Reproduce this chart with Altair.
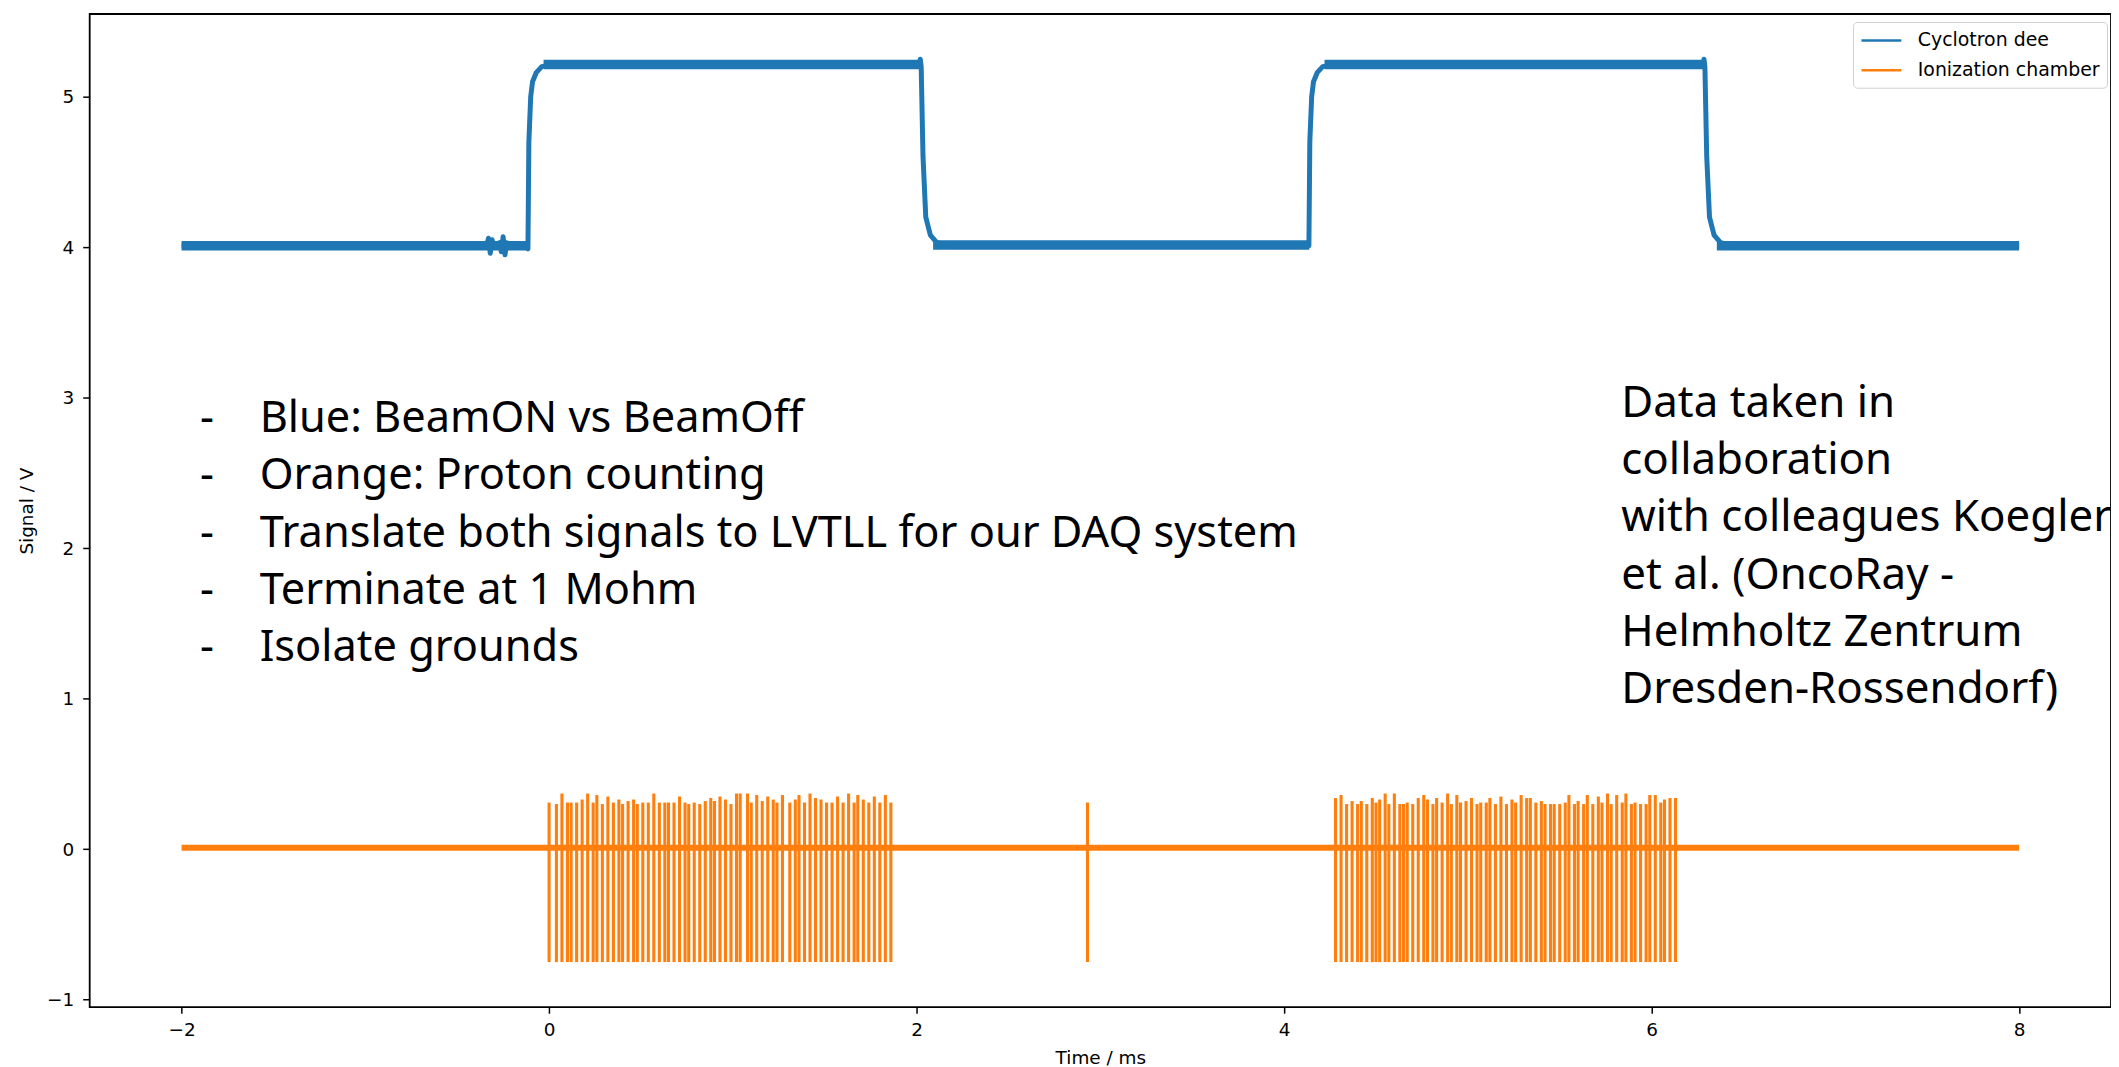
import altair as alt
import pandas as pd

# ---------------- data ----------------
# Cyclotron dee signal: time (ms) and signal (V)
dee_t = [-2.0, -0.34, -0.33, -0.32, -0.31, -0.30, -0.27, -0.26, -0.25, -0.24, -0.23, -0.22,
         -0.12, -0.115, -0.11, -0.10, -0.09, -0.07, -0.04, 0.0,
         2.015, 2.02, 2.025, 2.035, 2.05, 2.075, 2.11, 2.19,
         4.135, 4.14, 4.15, 4.16, 4.18, 4.21, 4.25,
         6.28, 6.285, 6.29, 6.30, 6.315, 6.34, 6.375, 6.45, 8.0]
dee_v = [4.01, 4.01, 4.06, 3.96, 4.05, 4.00, 4.03, 3.97, 4.07, 3.95, 4.03, 4.00,
         4.00, 3.99, 4.70, 5.00, 5.10, 5.16, 5.20, 5.21,
         5.21, 5.25, 5.20, 4.60, 4.20, 4.08, 4.03, 4.01,
         4.01, 4.70, 5.00, 5.10, 5.16, 5.20, 5.21,
         5.21, 5.25, 5.20, 4.60, 4.20, 4.08, 4.03, 4.01, 4.01]
# noisy flat levels of the dee signal (start, end, level)
band_t0 = [-2.0, -0.03, 2.09, 4.22, 6.355]
band_t1 = [-0.115, 2.02, 4.137, 6.285, 8.0]
band_v = [4.01, 5.215, 4.015, 5.215, 4.01]

# Ionization chamber: baseline and pulses
base_t0 = [-2.0]
base_t1 = [8.0]
base_v = [0.01]

burst1_t = [0.00, 0.04, 0.07, 0.10, 0.12, 0.15, 0.18, 0.21, 0.24, 0.26,
            0.29, 0.32, 0.35, 0.38, 0.40, 0.43, 0.46, 0.48, 0.51, 0.54,
            0.57, 0.60, 0.63, 0.65, 0.68, 0.71, 0.74, 0.76, 0.79, 0.82,
            0.85, 0.88, 0.90, 0.93, 0.96, 0.99, 1.02, 1.04, 1.08, 1.10,
            1.13, 1.16, 1.19, 1.22, 1.24, 1.27, 1.31, 1.34, 1.36, 1.39,
            1.42, 1.45, 1.48, 1.51, 1.54, 1.57, 1.60, 1.63, 1.66, 1.68,
            1.71, 1.74, 1.77, 1.80, 1.83, 1.86]
burst1_top = [0.31, 0.30, 0.37, 0.31, 0.31, 0.31, 0.33, 0.37, 0.31, 0.36,
              0.30, 0.35, 0.31, 0.33, 0.30, 0.32, 0.33, 0.30, 0.31, 0.31,
              0.37, 0.31, 0.31, 0.31, 0.31, 0.35, 0.31, 0.30, 0.31, 0.30,
              0.32, 0.34, 0.32, 0.35, 0.33, 0.30, 0.37, 0.37, 0.37, 0.31,
              0.36, 0.32, 0.35, 0.33, 0.31, 0.36, 0.31, 0.33, 0.36, 0.31,
              0.37, 0.34, 0.33, 0.31, 0.31, 0.35, 0.31, 0.37, 0.31, 0.36,
              0.33, 0.31, 0.35, 0.31, 0.36, 0.31]
single_t = [2.93]
single_top = [0.31]
burst2_t = [4.28, 4.31, 4.34, 4.37, 4.40, 4.42, 4.45, 4.48, 4.50, 4.52,
            4.55, 4.57, 4.60, 4.63, 4.65, 4.67, 4.70, 4.73, 4.76, 4.78,
            4.81, 4.83, 4.86, 4.89, 4.91, 4.94, 4.96, 4.99, 5.02, 5.05,
            5.07, 5.10, 5.12, 5.15, 5.18, 5.21, 5.24, 5.26, 5.29, 5.32,
            5.34, 5.37, 5.40, 5.42, 5.45, 5.47, 5.50, 5.53, 5.55, 5.58,
            5.60, 5.63, 5.65, 5.68, 5.71, 5.73, 5.76, 5.78, 5.81, 5.84,
            5.86, 5.89, 5.91, 5.94, 5.97, 5.99, 6.02, 6.05, 6.07, 6.10,
            6.13]
burst2_top = [0.34, 0.36, 0.30, 0.32, 0.30, 0.32, 0.30, 0.34, 0.31, 0.33,
              0.37, 0.30, 0.37, 0.30, 0.30, 0.31, 0.30, 0.34, 0.36, 0.33,
              0.30, 0.34, 0.31, 0.37, 0.30, 0.36, 0.31, 0.32, 0.34, 0.30,
              0.31, 0.31, 0.34, 0.30, 0.35, 0.30, 0.33, 0.31, 0.36, 0.34,
              0.34, 0.31, 0.32, 0.30, 0.30, 0.30, 0.30, 0.31, 0.36, 0.30,
              0.32, 0.30, 0.36, 0.30, 0.35, 0.31, 0.37, 0.30, 0.36, 0.31,
              0.37, 0.30, 0.31, 0.30, 0.30, 0.36, 0.36, 0.31, 0.33, 0.34,
              0.34]
pulse_low = -0.75

series_names = ["Cyclotron dee", "Ionization chamber"]
series_colors = ["#1f77b4", "#ff7f0e"]

x_ticks = [-2, 0, 2, 4, 6, 8]
y_ticks = [-1, 0, 1, 2, 3, 4, 5]

notes_left = ["Blue: BeamON vs BeamOff",
              "Orange: Proton counting",
              "Translate both signals to LVTLL for our DAQ system",
              "Terminate at 1 Mohm",
              "Isolate grounds"]
notes_right = ["Data taken in",
               "collaboration",
               "with colleagues Koegler",
               "et al. (OncoRay -",
               "Helmholtz Zentrum",
               "Dresden-Rossendorf)"]

# ---------------- tables ----------------
dee_df = pd.DataFrame({"t": dee_t, "v": dee_v, "series": series_names[0],
                       "idx": list(range(len(dee_t)))})
band_df = pd.DataFrame({"t0": band_t0, "t1": band_t1, "v": band_v, "series": series_names[0]})
base_df = pd.DataFrame({"t0": base_t0, "t1": base_t1, "v": base_v, "series": series_names[1]})
pulse_t = burst1_t + single_t + burst2_t
pulse_top = burst1_top + single_top + burst2_top
pulse_df = pd.DataFrame({"t": pulse_t, "top": pulse_top, "low": [pulse_low] * len(pulse_t),
                         "series": series_names[1]})
one = pd.DataFrame({"n": [0]})

# ---------------- encodings ----------------
xscale = alt.Scale(domain=[-2.5, 8.5], nice=False, zero=False)
yscale = alt.Scale(domain=[-1.05, 5.55], nice=False, zero=False)

FONT = "DejaVu Sans"
FS = 18.5
xaxis = alt.Axis(values=x_ticks, format="d", title="Time / ms", grid=False, domain=False,
                 tickSize=6, tickWidth=1.5, tickColor="black",
                 labelFont=FONT, labelFontSize=FS, labelColor="black", labelPadding=7,
                 labelFlush=False, labelOverlap=False,
                 titleFont=FONT, titleFontSize=FS, titleFontWeight="normal",
                 titleColor="black", titlePadding=10)
yaxis = alt.Axis(values=y_ticks, format="d", title="Signal / V", grid=False, domain=False,
                 tickSize=7, tickWidth=1.5, tickColor="black",
                 labelFont=FONT, labelFontSize=FS, labelColor="black", labelPadding=9,
                 labelFlush=False, labelOverlap=False,
                 titleFont=FONT, titleFontSize=FS, titleFontWeight="normal",
                 titleColor="black", titlePadding=10)

legend = alt.Legend(title=None, orient="none", legendX=1770, legendY=8,
                    symbolType="M-1,0H3", symbolSize=400, symbolStrokeWidth=2.5,
                    labelFont=FONT, labelFontSize=19, labelColor="black", labelLimit=400,
                    labelOffset=35, rowPadding=8, padding=7,
                    strokeColor="#d0d0d0", fillColor="white", cornerRadius=4)
color = alt.Color("series:N", scale=alt.Scale(domain=series_names, range=series_colors),
                  legend=legend)

dee_band = alt.Chart(band_df).mark_rule(strokeWidth=9.5, strokeCap="butt").encode(
    x=alt.X("t0:Q", scale=xscale, axis=xaxis),
    x2="t1:Q",
    y=alt.Y("v:Q", scale=yscale, axis=yaxis),
    color=color,
)
dee_line = alt.Chart(dee_df).mark_line(strokeWidth=5, strokeJoin="round").encode(
    x=alt.X("t:Q", scale=xscale, axis=xaxis),
    y=alt.Y("v:Q", scale=yscale, axis=yaxis),
    order="idx:Q",
    color=color,
)
ion_base = alt.Chart(base_df).mark_rule(strokeWidth=6, strokeCap="butt").encode(
    x=alt.X("t0:Q", scale=xscale, axis=xaxis),
    x2="t1:Q",
    y=alt.Y("v:Q", scale=yscale, axis=yaxis),
    color=color,
)
ion_pulses = alt.Chart(pulse_df).mark_rule(strokeWidth=3.1, strokeCap="butt").encode(
    x=alt.X("t:Q", scale=xscale, axis=xaxis),
    y=alt.Y("low:Q", scale=yscale, axis=yaxis),
    y2="top:Q",
    color=color,
)

NOTE_FONT = "Noto Sans"
NOTE_LH = 57.4
dashes = alt.Chart(one).mark_text(
    text=["-"] * len(notes_left), font=NOTE_FONT, fontSize=43.5, lineHeight=NOTE_LH,
    align="left", baseline="alphabetic", color="black",
).encode(x=alt.datum(-1.9), y=alt.datum(2.771))
left_text = alt.Chart(one).mark_text(
    text=notes_left, font=NOTE_FONT, fontSize=43.5, lineHeight=NOTE_LH,
    align="left", baseline="alphabetic", color="black",
).encode(x=alt.datum(-1.575), y=alt.datum(2.771))
right_text = alt.Chart(one).mark_text(
    text=notes_right, font=NOTE_FONT, fontSize=44, lineHeight=NOTE_LH,
    align="left", baseline="alphabetic", color="black",
).encode(x=alt.datum(5.835), y=alt.datum(2.872))

chart = alt.layer(dee_band, dee_line, ion_base, ion_pulses, dashes, left_text, right_text).properties(
    width=2029, height=997,
    autosize=alt.AutoSizeParams(type="none"),
    padding={"left": 82, "top": 4, "right": 0, "bottom": 62},
    background="white",
).configure_view(stroke="black", strokeWidth=1.8)

chart.save("out.html", embed_options={"renderer": "svg", "actions": False})
